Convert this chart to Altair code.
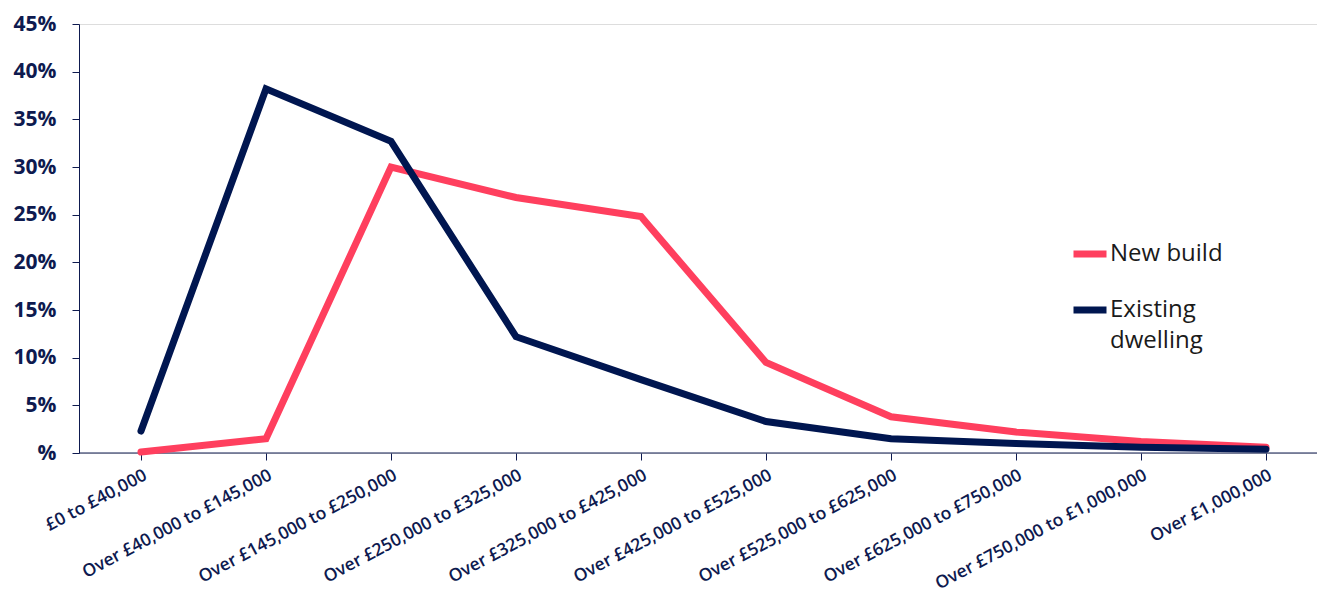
import altair as alt
import pandas as pd

bands = [
    "£0 to £40,000",
    "Over £40,000 to £145,000",
    "Over £145,000 to £250,000",
    "Over £250,000 to £325,000",
    "Over £325,000 to £425,000",
    "Over £425,000 to £525,000",
    "Over £525,000 to £625,000",
    "Over £625,000 to £750,000",
    "Over £750,000 to £1,000,000",
    "Over £1,000,000",
]
new_build = [0.001, 0.015, 0.300, 0.268, 0.248, 0.095, 0.038, 0.022, 0.012, 0.006]
existing = [0.023, 0.382, 0.327, 0.122, 0.077, 0.033, 0.015, 0.010, 0.006, 0.004]

series_names = ["New build", "Existing dwelling"]
series_colors = ["#FF3F5E", "#001650"]

rows = []
for name, values in zip(series_names, [new_build, existing]):
    for band, v in zip(bands, values):
        rows.append({"band": band, "series": name, "share": v})
df = pd.DataFrame(rows)

navy = "#0E1A4F"
FONT = "Open Sans"
W, H = 1238, 429

lines = (
    alt.Chart(df)
    .mark_line(strokeWidth=7, strokeCap="round")
    .encode(
        x=alt.X(
            "band:N",
            sort=bands,
            scale=alt.Scale(type="point", range=[62, 1187], padding=0),
            axis=alt.Axis(
                title=None,
                labelAngle=332,
                labelFontSize=17.5,
                labelColor=navy,
                labelFont=FONT,
                labelFontWeight=600,
                labelLimit=400,
                domain=False,
                tickColor=navy,
                tickSize=7,
                labelPadding=6,
                grid=False,
            ),
        ),
        y=alt.Y(
            "share:Q",
            scale=alt.Scale(domain=[0, 0.45], nice=False),
            axis=alt.Axis(
                title=None,
                values=[0, 0.05, 0.1, 0.15, 0.2, 0.25, 0.3, 0.35, 0.4, 0.45],
                labelExpr="datum.value == 0 ? '%' : format(datum.value, '.0%')",
                labelFontSize=21,
                labelFontWeight="bold",
                labelColor=navy,
                labelFont=FONT,
                domainColor=navy,
                tickColor=navy,
                tickSize=7,
                labelPadding=16,
                grid=False,
            ),
        ),
        color=alt.Color(
            "series:N",
            sort=series_names,
            scale=alt.Scale(domain=series_names, range=series_colors),
            legend=alt.Legend(
                title=None,
                orient="none",
                legendX=991,
                legendY=210,
                symbolType="stroke",
                symbolSize=1089,
                symbolStrokeWidth=7,
                labelFontSize=24,
                labelFont=FONT,
                labelColor="#1A1A1A",
                labelOffset=0,
                rowPadding=22,
                labelLimit=300,
                labelExpr="datum.label == 'Existing dwelling' ? ['Existing', 'dwelling'] : datum.label",
            ),
        ),
    )
)

# baseline running the full width of the plot
baseline = (
    alt.Chart(pd.DataFrame({"y": [0]}))
    .mark_rule(color=navy, strokeWidth=1)
    .encode(x=alt.value(0), x2=alt.value(W), y=alt.value(H))
)

chart = (
    alt.layer(baseline, lines)
    .properties(
        width=W,
        height=H,
        autosize=alt.AutoSizeParams(type="none"),
        padding={"left": 79, "top": 24, "right": 0, "bottom": 147},
    )
    .configure_view(stroke=None)
    .configure(background="white", style={"guide-label": {"lineHeight": 31}})
)

chart.save("out.html", embed_options={"renderer": "svg", "actions": False})
